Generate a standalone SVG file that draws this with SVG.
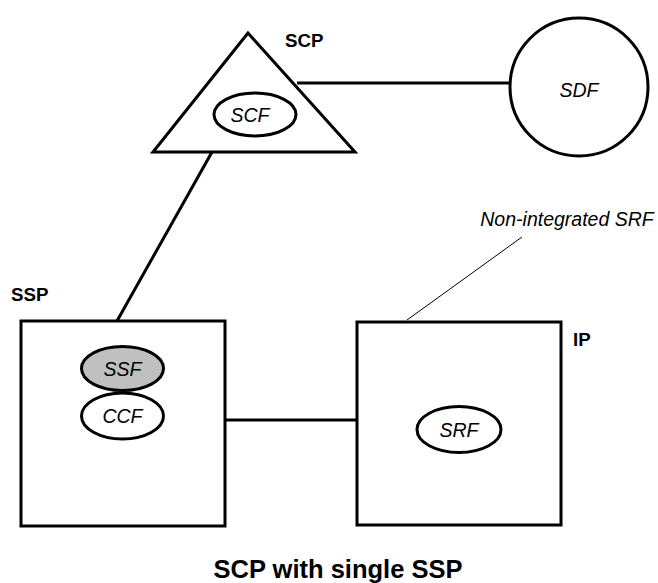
<svg xmlns="http://www.w3.org/2000/svg" width="658" height="583" viewBox="0 0 658 583">
<style>
.shape{fill:#fff;stroke:#000;stroke-width:3}
.conn{stroke:#000;stroke-width:3;fill:none}
.thin{stroke:#000;stroke-width:1;fill:none}
.lbl{font-family:"Liberation Sans",Arial,sans-serif;font-weight:bold;font-size:18.7px;fill:#000}
.fn{font-family:"Liberation Sans",Arial,sans-serif;font-style:italic;font-size:19.5px;fill:#000;text-anchor:middle}
.title{font-family:"Liberation Sans",Arial,sans-serif;font-weight:bold;font-size:25.5px;fill:#000;text-anchor:middle}
</style>
<rect width="658" height="583" fill="#fff"/>
<g id="connectors">
<line class="conn" x1="297" y1="83" x2="510" y2="83"/>
<line class="conn" x1="212" y1="152" x2="117" y2="321"/>
<line class="conn" x1="225" y1="420" x2="357" y2="420"/>
<line class="thin" x1="522" y1="237" x2="407" y2="320"/>
</g>
<g id="scp">
<polygon class="shape" points="248,33 153,152 355,152"/>
<text class="lbl" x="285" y="46.5">SCP</text>
</g>
<g id="scf">
<ellipse class="shape" cx="255" cy="114.5" rx="41" ry="21.5"/>
<text class="fn" x="250" y="121.5">SCF</text>
</g>
<g id="sdf">
<circle class="shape" cx="579" cy="87" r="69"/>
<text class="fn" x="579" y="97">SDF</text>
</g>
<g id="ssp">
<rect class="shape" x="21" y="321" width="204" height="205"/>
<text class="lbl" x="11" y="300.5">SSP</text>
</g>
<g id="ssf">
<ellipse cx="122.5" cy="368.5" rx="41" ry="22" fill="#c0c0c0" stroke="#000" stroke-width="3"/>
<text class="fn" x="122.5" y="375.5">SSF</text>
</g>
<g id="ccf">
<ellipse class="shape" cx="122.5" cy="416" rx="41" ry="23"/>
<text class="fn" x="122.5" y="423">CCF</text>
</g>
<g id="ip">
<rect class="shape" x="357" y="322" width="204" height="203"/>
<text class="lbl" x="573" y="345.5">IP</text>
</g>
<g id="srf">
<ellipse class="shape" cx="459" cy="429.5" rx="42" ry="23"/>
<text class="fn" x="459" y="436.5">SRF</text>
</g>
<g id="note">
<text class="fn" x="567" y="225.5">Non-integrated SRF</text>
</g>
<text class="title" x="338" y="578">SCP with single SSP</text>
</svg>
